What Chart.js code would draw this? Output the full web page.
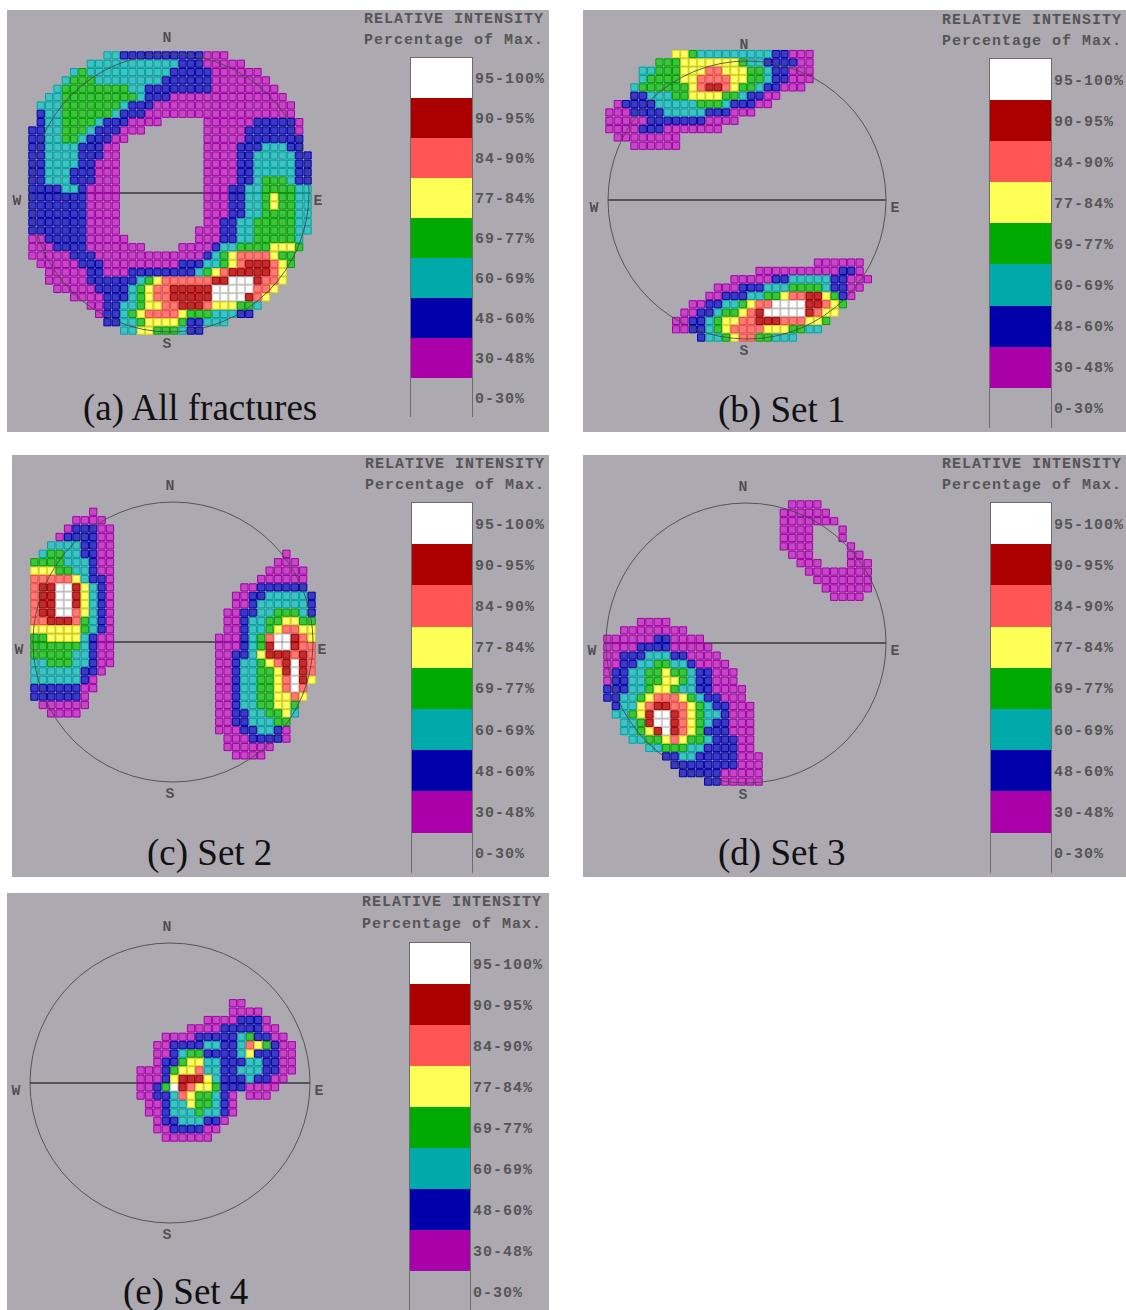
<!DOCTYPE html>
<html>
<head>
<meta charset="utf-8">
<script src="https://cdn.jsdelivr.net/npm/chart.js@4.4.0/dist/chart.umd.min.js"></script>
<style>
  body { margin: 0; background: #fff; }
  #page { position: relative; width: 1126px; height: 1310px; overflow: hidden; }
  .panel { position: absolute; background: #ada9b1; }
  .net { position: absolute; }
  .mono { position: absolute; font-family: "Liberation Mono", "DejaVu Sans Mono", monospace; font-weight: bold;
          font-size: 15px; letter-spacing: 1px; line-height: 18px; color: #555; white-space: nowrap; }
  .scale { position: absolute; border: 1px solid #6c6c6c; box-sizing: border-box; }
  .scale div { width: 100%; }
  .cap { position: absolute; font-family: "Liberation Serif", "Times New Roman", serif; font-size: 37px;
         line-height: 38px; color: #111; white-space: nowrap; }
</style>
</head>
<body>
<div id="page"></div>
<script>
// ---- legend / text data
var levelLabels = ['95-100%', '90-95%', '84-90%', '77-84%', '69-77%', '60-69%', '48-60%', '30-48%', '0-30%'];
var levelColors = ['#ffffff', '#aa0000', '#ff5555', '#ffff55', '#00aa00', '#00aaaa', '#0000aa', '#aa00aa', '#ada9b1'];
var captions = ['(a) All fractures', '(b) Set 1', '(c) Set 2', '(d) Set 3', '(e) Set 4'];
var compass = ['N', 'S', 'W', 'E'];
var legendTitle = ['RELATIVE INTENSITY', 'Percentage of Max.'];

// ---- density cells read off each stereonet: [row, [fromCol, toCol, level], ...]
// level 1 = 30-48% ... 8 = 95-100%
var allFractures = [
  [1, [10,11,3],[12,21,2],[22,24,1]],
  [2, [8,18,3],[19,21,2],[22,26,1]],
  [3, [6,6,3],[7,7,4],[8,17,3],[18,22,2],[23,28,1]],
  [4, [5,5,3],[6,8,4],[9,16,3],[17,22,2],[23,29,1]],
  [5, [4,4,3],[5,12,4],[13,14,3],[15,22,2],[23,30,1]],
  [6, [3,4,3],[5,13,4],[14,14,3],[15,17,2],[18,31,1]],
  [7, [2,4,3],[5,11,4],[12,12,3],[13,15,2],[16,32,1]],
  [8, [2,2,2],[3,4,3],[5,10,4],[11,11,3],[12,14,2],[15,32,1]],
  [9, [2,2,2],[3,4,3],[5,8,4],[9,9,3],[10,12,2],[13,16,1],[22,27,1],[28,32,2],[33,33,1]],
  [10, [1,2,2],[3,4,3],[5,7,4],[8,8,3],[9,11,2],[12,14,1],[22,26,1],[27,32,2],[33,33,1]],
  [11, [1,2,2],[3,4,3],[5,6,4],[7,7,3],[8,10,2],[11,12,1],[22,26,1],[27,33,2]],
  [12, [1,2,2],[3,6,3],[7,9,2],[10,11,1],[22,25,1],[26,28,2],[29,31,3],[32,33,2]],
  [13, [1,2,2],[3,6,3],[7,9,2],[10,11,1],[22,25,1],[26,27,2],[28,32,3],[33,34,2]],
  [14, [1,2,2],[3,6,3],[7,8,2],[9,11,1],[22,25,1],[26,27,2],[28,32,3],[33,34,2]],
  [15, [1,2,2],[3,5,3],[6,8,2],[9,11,1],[22,25,1],[26,27,2],[28,32,3],[33,34,2]],
  [16, [1,2,2],[3,5,3],[6,8,2],[9,11,1],[22,25,1],[26,27,2],[28,28,3],[29,31,4],[32,32,3],[33,34,2]],
  [17, [1,4,2],[5,6,3],[7,7,2],[8,11,1],[22,24,1],[25,26,2],[27,28,3],[29,32,4],[33,34,3]],
  [18, [1,7,2],[8,11,1],[22,24,1],[25,26,2],[27,28,3],[29,29,4],[30,30,5],[31,32,4],[33,34,3]],
  [19, [1,7,2],[8,11,1],[22,24,1],[25,26,2],[27,28,3],[29,29,4],[30,30,5],[31,32,4],[33,34,3]],
  [20, [1,7,2],[8,11,1],[22,24,1],[25,26,2],[27,28,3],[29,32,4],[33,34,3]],
  [21, [1,7,2],[8,11,1],[22,23,1],[24,25,2],[26,27,3],[28,32,4],[33,34,3]],
  [22, [1,7,2],[8,11,1],[21,23,1],[24,25,2],[26,27,3],[28,32,4],[33,34,3]],
  [23, [1,2,1],[3,7,2],[8,12,1],[21,23,1],[24,25,2],[26,27,3],[28,32,4],[33,33,3]],
  [24, [1,3,1],[4,7,2],[8,14,1],[19,22,1],[23,23,2],[24,25,3],[26,29,4],[30,32,5],[33,33,4]],
  [25, [1,5,1],[6,8,2],[9,21,1],[22,22,2],[23,23,3],[24,24,4],[25,25,5],[26,29,6],[30,30,5],[31,32,4]],
  [26, [2,6,1],[7,9,2],[10,18,1],[19,21,2],[22,23,3],[24,24,4],[25,25,5],[26,26,6],[27,29,7],[30,30,6],[31,31,5],[32,32,4]],
  [27, [3,7,1],[8,9,2],[10,12,1],[13,20,2],[21,21,3],[22,22,4],[23,23,5],[24,24,6],[25,29,7],[30,30,6],[31,31,5]],
  [28, [3,7,1],[8,13,2],[14,14,3],[15,15,4],[16,16,5],[17,22,6],[23,24,7],[25,27,8],[28,28,7],[29,30,6],[31,31,5]],
  [29, [4,8,1],[9,12,2],[13,13,3],[14,14,4],[15,15,5],[16,17,6],[18,22,7],[23,27,8],[28,29,6],[30,30,5]],
  [30, [6,9,1],[10,12,2],[13,13,3],[14,14,4],[15,15,5],[16,17,6],[18,22,7],[23,26,8],[27,27,7],[28,28,6],[29,29,5]],
  [31, [8,9,1],[10,11,2],[12,13,3],[14,14,4],[15,16,5],[17,18,6],[19,21,7],[22,22,6],[23,25,5],[26,27,4],[28,28,3]],
  [32, [9,9,1],[10,11,2],[12,12,3],[13,13,4],[14,14,5],[15,18,6],[19,19,5],[20,22,4],[23,25,3],[26,27,2]],
  [33, [10,11,2],[12,13,3],[14,14,4],[15,18,5],[19,19,4],[20,21,2],[22,24,3]],
  [34, [12,13,3],[14,15,5],[16,18,4],[19,19,3],[20,21,2]]
];

var set1 = [
  [0, [9,10,5],[11,11,4],[12,20,3],[21,22,2],[23,25,1]],
  [1, [7,9,4],[10,16,5],[17,17,4],[18,19,3],[20,23,2],[24,25,1]],
  [2, [5,6,3],[7,9,4],[10,12,5],[13,14,6],[15,17,5],[18,19,4],[20,20,3],[21,22,2],[23,25,1]],
  [3, [5,5,3],[6,9,4],[10,11,5],[12,15,6],[16,17,5],[18,19,4],[20,20,3],[21,22,2],[23,25,1]],
  [4, [4,4,3],[5,10,4],[11,11,5],[12,12,6],[13,14,7],[15,15,6],[16,16,5],[17,18,4],[19,19,3],[20,21,2],[22,24,1]],
  [5, [4,5,2],[6,8,3],[9,10,4],[11,14,5],[15,16,4],[17,17,3],[18,19,2],[20,21,1]],
  [6, [2,2,1],[3,6,2],[7,11,3],[12,14,4],[15,15,3],[16,18,2],[19,20,1]],
  [7, [1,3,1],[4,7,2],[8,12,3],[13,15,2],[16,18,1]],
  [8, [1,5,1],[6,12,2],[13,16,1]],
  [9, [1,4,1],[5,7,2],[8,14,1]],
  [10, [2,9,1]],
  [11, [4,9,1]],
  [25, [26,31,1]],
  [26, [19,28,1],[29,30,2],[31,31,1]],
  [27, [16,20,1],[21,22,2],[23,27,3],[28,29,2],[30,32,1]],
  [28, [14,16,1],[17,19,2],[20,22,3],[23,26,4],[27,27,3],[28,29,2],[30,31,1]],
  [29, [13,14,1],[15,17,2],[18,19,3],[20,21,4],[22,22,5],[23,24,6],[25,26,7],[27,27,5],[28,28,4],[29,29,2],[30,30,1]],
  [30, [11,12,1],[13,14,2],[15,16,3],[17,17,4],[18,18,5],[19,20,6],[21,24,8],[25,26,7],[27,27,6],[28,28,5],[29,29,4]],
  [31, [10,11,1],[12,13,2],[14,14,3],[15,16,4],[17,17,5],[18,18,6],[19,19,7],[20,24,8],[25,25,7],[26,26,6],[27,28,5]],
  [32, [9,10,1],[11,12,2],[13,13,3],[14,14,4],[15,16,5],[17,18,6],[19,21,7],[22,24,6],[25,26,5],[27,27,4]],
  [33, [9,10,1],[11,12,2],[13,13,3],[14,14,4],[15,15,5],[16,19,6],[20,22,5],[23,24,4],[25,26,3]],
  [34, [12,12,2],[13,14,3],[15,15,4],[16,16,5],[17,18,6],[19,20,4],[21,23,3]]
];

var set2 = [
  [2, [8,8,1]],
  [3, [6,9,1]],
  [4, [5,5,1],[6,8,2],[9,10,1]],
  [5, [4,4,1],[5,8,2],[9,10,1]],
  [6, [3,6,3],[7,8,2],[9,10,1]],
  [7, [2,2,3],[3,4,4],[5,6,3],[7,8,2],[9,10,1],[31,31,1]],
  [8, [1,4,4],[5,7,3],[8,8,2],[9,10,1],[30,32,1]],
  [9, [1,3,5],[4,5,4],[6,7,3],[8,8,2],[9,10,1],[29,33,1]],
  [10, [1,5,6],[6,6,5],[7,7,3],[8,9,2],[10,10,1],[28,33,1]],
  [11, [1,1,6],[2,3,7],[4,5,8],[6,6,7],[7,7,5],[8,8,3],[9,9,2],[10,10,1],[26,27,1],[28,33,2]],
  [12, [1,1,6],[2,3,7],[4,5,8],[6,6,7],[7,7,5],[8,8,3],[9,9,2],[10,10,1],[25,26,1],[27,28,2],[29,33,3],[34,34,2]],
  [13, [1,1,6],[2,3,7],[4,5,8],[6,6,7],[7,7,5],[8,8,3],[9,9,2],[10,10,1],[25,26,1],[27,27,2],[28,33,3],[34,34,2]],
  [14, [1,1,6],[2,3,7],[4,5,8],[6,6,6],[7,7,5],[8,8,3],[9,9,2],[10,10,1],[24,25,1],[26,27,2],[28,29,3],[30,32,4],[33,33,3],[34,34,2]],
  [15, [1,2,6],[3,5,7],[6,6,6],[7,7,4],[8,8,3],[9,9,2],[10,10,1],[24,25,1],[26,26,2],[27,28,3],[29,30,4],[31,32,5],[33,34,4]],
  [16, [1,6,5],[7,7,4],[8,8,3],[9,9,2],[10,10,1],[24,25,1],[26,26,2],[27,28,3],[29,29,4],[30,30,5],[31,32,6],[33,34,5]],
  [17, [1,2,4],[3,6,5],[7,7,3],[8,8,2],[9,10,1],[23,25,1],[26,26,2],[27,27,3],[28,28,4],[29,29,6],[30,31,8],[32,32,7],[33,33,6],[34,34,5]],
  [18, [1,6,4],[7,7,3],[8,8,2],[9,10,1],[23,25,1],[26,26,2],[27,27,3],[28,28,4],[29,29,7],[30,31,8],[32,32,7],[33,34,6]],
  [19, [1,5,4],[6,7,3],[8,8,2],[9,10,1],[23,24,1],[25,26,2],[27,27,3],[28,28,5],[29,31,7],[32,32,6],[33,33,7],[34,34,6]],
  [20, [1,2,3],[3,5,4],[6,7,3],[8,8,2],[9,10,1],[23,24,1],[25,25,2],[26,27,3],[28,28,4],[29,29,5],[30,30,6],[31,31,7],[32,32,8],[33,33,7],[34,34,6]],
  [21, [1,6,3],[7,8,2],[9,9,1],[23,24,1],[25,25,2],[26,27,3],[28,29,4],[30,30,5],[31,31,7],[32,32,8],[33,33,7],[34,34,6]],
  [22, [1,6,3],[7,7,2],[8,8,1],[23,24,1],[25,25,2],[26,27,3],[28,29,4],[30,30,5],[31,31,6],[32,32,8],[33,33,7],[34,34,5]],
  [23, [1,6,2],[7,8,1],[23,24,1],[25,25,2],[26,27,3],[28,29,4],[30,30,5],[31,31,6],[32,32,8],[33,33,6]],
  [24, [1,6,2],[7,7,1],[23,24,1],[25,25,2],[26,27,3],[28,29,4],[30,31,5],[32,32,6],[33,33,5]],
  [25, [2,7,1],[23,24,1],[25,25,2],[26,27,3],[28,29,4],[30,31,5],[32,32,4]],
  [26, [3,6,1],[23,24,1],[25,26,2],[27,28,3],[29,30,4],[31,31,5],[32,32,3]],
  [27, [23,24,1],[25,26,2],[27,29,3],[30,31,4]],
  [28, [23,25,1],[26,27,2],[28,29,3],[30,30,2],[31,31,1]],
  [29, [24,26,1],[27,30,2],[31,31,1]],
  [30, [24,29,1]],
  [31, [25,28,1]]
];

var set3 = [
  [1, [23,26,1]],
  [2, [22,27,1]],
  [3, [22,28,1]],
  [4, [22,25,1],[29,29,1]],
  [5, [22,25,1],[29,29,1]],
  [6, [22,25,1],[30,30,1]],
  [7, [23,25,1],[30,31,1]],
  [8, [24,26,1],[30,32,1]],
  [9, [25,32,1]],
  [10, [26,32,1]],
  [11, [27,32,1]],
  [12, [28,31,1]],
  [15, [5,8,1]],
  [16, [3,10,1]],
  [17, [1,6,1],[7,8,2],[9,12,1]],
  [18, [1,4,1],[5,8,2],[9,13,1]],
  [19, [1,2,1],[3,5,2],[6,8,3],[9,10,2],[11,14,1]],
  [20, [1,2,1],[3,4,2],[5,6,3],[7,8,4],[9,10,3],[11,11,2],[12,15,1]],
  [21, [1,1,1],[2,3,2],[4,5,3],[6,7,4],[8,8,5],[9,10,4],[11,11,3],[12,13,2],[14,16,1]],
  [22, [1,1,1],[2,3,2],[4,5,3],[6,7,4],[8,9,5],[10,10,4],[11,11,3],[12,13,2],[14,16,1]],
  [23, [1,3,2],[4,5,3],[6,6,4],[7,8,5],[9,9,4],[10,11,3],[12,13,2],[14,17,1]],
  [24, [1,2,2],[3,4,3],[5,5,4],[6,6,5],[7,9,6],[10,10,5],[11,11,4],[12,12,3],[13,14,2],[15,17,1]],
  [25, [2,2,2],[3,4,3],[5,5,5],[6,6,6],[7,8,7],[9,10,6],[11,11,5],[12,12,4],[13,13,3],[14,15,2],[16,18,1]],
  [26, [2,3,3],[4,4,4],[5,5,5],[6,6,7],[7,8,8],[9,9,7],[10,10,6],[11,11,5],[12,12,4],[13,14,3],[15,15,2],[16,18,1]],
  [27, [3,4,3],[5,5,4],[6,6,7],[7,8,8],[9,9,7],[10,10,6],[11,11,5],[12,12,4],[13,13,3],[14,15,2],[16,18,1]],
  [28, [3,4,3],[5,5,4],[6,6,5],[7,7,7],[8,8,8],[9,9,7],[10,10,6],[11,11,5],[12,12,4],[13,15,2],[16,18,1]],
  [29, [4,5,3],[6,7,4],[8,8,5],[9,9,6],[10,10,5],[11,12,4],[13,13,3],[14,16,2],[17,18,1]],
  [30, [6,7,3],[8,10,4],[11,12,3],[13,16,2],[17,18,1]],
  [31, [8,9,2],[10,11,3],[12,16,2],[17,19,1]],
  [32, [9,16,2],[17,19,1]],
  [33, [10,14,2],[15,19,1]],
  [34, [13,14,2],[15,19,1]]
];

var set4 = [
  [8, [25,26,1]],
  [9, [25,28,1]],
  [10, [22,25,1],[26,28,2],[29,29,1]],
  [11, [20,23,1],[24,28,2],[29,30,1]],
  [12, [17,20,1],[21,25,2],[26,26,3],[27,27,4],[28,29,2],[30,31,1]],
  [13, [16,17,1],[18,21,2],[22,23,3],[24,25,2],[26,26,3],[27,27,6],[28,28,5],[29,29,4],[30,30,2],[31,32,1]],
  [14, [16,17,1],[18,18,2],[19,19,3],[20,21,4],[22,25,2],[26,26,3],[27,27,5],[28,30,2],[31,32,1]],
  [15, [16,16,1],[17,18,2],[19,19,4],[20,21,5],[22,23,3],[24,26,2],[27,28,3],[29,30,2],[31,32,1]],
  [16, [14,16,1],[17,17,2],[18,18,4],[19,20,5],[21,21,6],[22,23,3],[24,25,2],[26,28,3],[29,30,2],[31,32,1]],
  [17, [14,16,1],[17,17,2],[18,18,5],[19,21,7],[22,22,5],[23,23,3],[24,26,2],[27,27,3],[28,29,2],[30,31,1]],
  [18, [14,15,1],[16,16,2],[17,17,4],[18,18,8],[19,19,7],[20,20,6],[21,22,5],[23,23,4],[24,26,2],[27,30,1]],
  [19, [14,15,1],[16,17,2],[18,18,3],[19,19,6],[20,20,5],[21,22,4],[23,23,3],[24,24,2],[25,25,1],[27,29,1]],
  [20, [15,16,1],[17,17,2],[18,19,3],[20,20,5],[21,22,4],[23,23,3],[24,24,2],[25,25,1]],
  [21, [15,16,1],[17,17,2],[18,20,3],[21,21,4],[22,23,3],[24,24,2],[25,25,1]],
  [22, [16,16,1],[17,18,2],[19,21,3],[22,23,2],[24,24,1]],
  [23, [16,17,1],[18,21,2],[22,23,1]],
  [24, [17,22,1]]
];

var densities = [allFractures, set1, set2, set3, set4];

// grid of the counting cells, in stereonet radii
var CELL = 0.06, GRID0 = 1.05;

// ---- page layout (pixels)
var layout = [
  { box: [7, 10, 542, 422],  cx: 170, cy: 193,  r: 139, title: [364, 20, 41],   scale: [410, 57, 63, 40],   cap: [83, 408] },
  { box: [583, 10, 543, 422], cx: 747, cy: 200,  r: 139, title: [942, 21, 42],   scale: [989, 58, 63, 41.1], cap: [718, 410] },
  { box: [12, 455, 537, 422], cx: 173, cy: 642,  r: 140, title: [365, 465, 486], scale: [411, 502, 62, 41.2], cap: [147, 853] },
  { box: [583, 455, 543, 422], cx: 746, cy: 643, r: 140, title: [942, 465, 486], scale: [990, 502, 62, 41.2], cap: [718, 853] },
  { box: [7, 893, 542, 417],  cx: 170, cy: 1083, r: 140, title: [362, 903, 925], scale: [409, 942, 62, 41],   cap: [123, 1292] }
];
var HALF = 170;

// cell look: lighter inside, saturated edge
var cellFill = [null, '#c646c6', '#3a3ac6', '#3ec2c2', '#3cc43c', '#ffff70', '#ff7a72', '#c42c2c', '#ffffff'];
var cellEdge = [null, '#a000a6', '#0000a0', '#00a2a2', '#00a000', '#dede00', '#f04a48', '#a00000', '#cfcfcf'];

var page = document.getElementById('page');

function el(cls, css, text) {
  var d = document.createElement('div');
  d.className = cls;
  Object.assign(d.style, css);
  if (text !== undefined) d.textContent = text;
  page.appendChild(d);
  return d;
}

function cellPoints(runs, level) {
  var pts = [];
  runs.forEach(function (row) {
    var j = row[0];
    row.slice(1).forEach(function (seg) {
      if (seg[2] !== level) return;
      for (var i = seg[0]; i <= seg[1]; i++) {
        pts.push({ x: -GRID0 + CELL * i, y: GRID0 - CELL * j });
      }
    });
  });
  return pts;
}

var netPlugin = {
  id: 'net',
  beforeDatasetsDraw: function (chart) {
    var ctx = chart.ctx, x = chart.scales.x, y = chart.scales.y;
    var cx = x.getPixelForValue(0), cy = y.getPixelForValue(0), r = x.getPixelForValue(1) - cx;
    ctx.save();
    ctx.strokeStyle = '#383838';
    ctx.lineWidth = 1.6;
    ctx.beginPath();
    ctx.moveTo(cx - r, cy);
    ctx.lineTo(cx + r, cy);
    ctx.stroke();
    ctx.restore();
  },
  afterDatasetsDraw: function (chart) {
    var ctx = chart.ctx, x = chart.scales.x, y = chart.scales.y;
    var cx = x.getPixelForValue(0), cy = y.getPixelForValue(0), r = x.getPixelForValue(1) - cx;
    ctx.save();
    ctx.strokeStyle = 'rgba(70,70,70,0.85)';
    ctx.lineWidth = 1;
    ctx.beginPath();
    ctx.arc(cx, cy, r, 0, Math.PI * 2);
    ctx.stroke();
    ctx.fillStyle = '#505050';
    ctx.font = 'bold 15px "Liberation Mono", monospace';
    ctx.textAlign = 'center';
    ctx.textBaseline = 'middle';
    ctx.fillText(compass[0], cx - 3, cy - r - 16);
    ctx.fillText(compass[1], cx - 3, cy + r + 12);
    ctx.fillText(compass[2], cx - r - 14, cy + 8);
    ctx.fillText(compass[3], cx + r + 9, cy + 8);
    ctx.restore();
  }
};

layout.forEach(function (L, p) {
  el('panel', { left: L.box[0] + 'px', top: L.box[1] + 'px', width: L.box[2] + 'px', height: L.box[3] + 'px' });
});

layout.forEach(function (L, p) {
  // legend
  el('mono', { left: L.title[0] + 'px', top: (L.title[1] - 9) + 'px' }, legendTitle[0]);
  el('mono', { left: L.title[0] + 'px', top: (L.title[2] - 9) + 'px' }, legendTitle[1]);
  var s = L.scale;
  var col = el('scale', { left: s[0] + 'px', top: s[1] + 'px', width: s[2] + 'px', height: (s[3] * 9) + 'px' });
  levelColors.forEach(function (c, k) {
    var b = document.createElement('div');
    b.style.height = s[3] + 'px';
    b.style.background = c;
    col.appendChild(b);
    el('mono', { left: (s[0] + s[2] + 2) + 'px', top: (s[1] + k * s[3] + s[3] / 2 + 3 - 9) + 'px' }, levelLabels[k]);
  });
  el('cap', { left: L.cap[0] + 'px', top: (L.cap[1] - 19) + 'px' }, captions[p]);

  // stereonet
  var cv = document.createElement('canvas');
  cv.className = 'net';
  cv.width = HALF * 2;
  cv.height = HALF * 2;
  cv.style.left = (L.cx - HALF) + 'px';
  cv.style.top = (L.cy - HALF) + 'px';
  page.appendChild(cv);

  var datasets = [];
  for (var lv = 1; lv <= 8; lv++) {
    datasets.push({
      label: levelLabels[8 - lv],
      data: cellPoints(densities[p], lv),
      backgroundColor: cellFill[lv],
      borderColor: cellEdge[lv],
      pointStyle: 'rect',
      pointBorderWidth: 1,
      pointRadius: function (ctx) {
        var sx = ctx.chart.scales.x;
        var px = Math.abs(sx.getPixelForValue(CELL) - sx.getPixelForValue(0));
        return (px - 1.2) / Math.SQRT2;
      }
    });
  }

  new Chart(cv, {
    type: 'scatter',
    data: { datasets: datasets },
    options: {
      responsive: false,
      animation: false,
      devicePixelRatio: 1,
      layout: { padding: 0 },
      plugins: { legend: { display: false }, tooltip: { enabled: false } },
      scales: {
        x: { type: 'linear', min: -HALF / L.r, max: HALF / L.r, display: false },
        y: { type: 'linear', min: -HALF / L.r, max: HALF / L.r, display: false }
      }
    },
    plugins: [netPlugin]
  });
});
</script>
</body>
</html>
